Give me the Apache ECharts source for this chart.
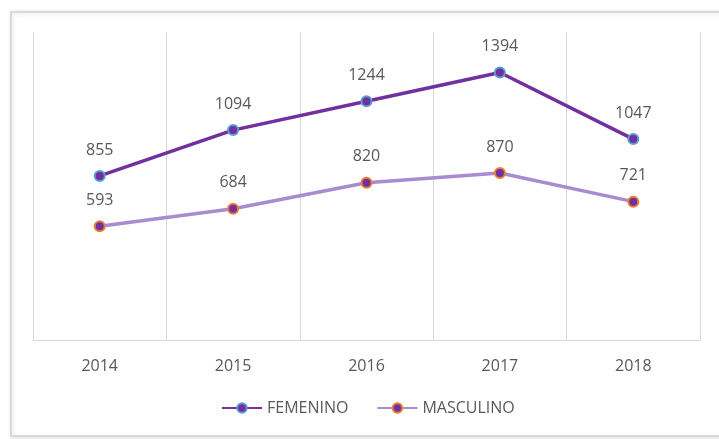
<!DOCTYPE html>
<html>
<head>
<meta charset="utf-8">
<script src="https://cdn.jsdelivr.net/npm/echarts@6/dist/echarts.min.js"></script>
<style>
html,body{margin:0;padding:0;background:#fff;}
#c{width:719px;height:439px;}
</style>
</head>
<body>
<div id="c"></div>
<script>
const categories = ['2014', '2015', '2016', '2017', '2018'];
const femenino = [855, 1094, 1244, 1394, 1047];
const masculino = [593, 684, 820, 870, 721];
const seriesNames = ['FEMENINO', 'MASCULINO'];

const chart = echarts.init(document.getElementById('c'));
const font = '"Open Sans", "Noto Sans", sans-serif';
const labelStyle = { show: true, position: 'top', distance: 12, color: '#595959', fontSize: 16, fontFamily: font };
chart.setOption({
  animation: false,
  backgroundColor: '#fff',
  graphic: [{
    type: 'rect', z: -10, silent: true,
    shape: { x: 11, y: 12, width: 730, height: 424 },
    style: { fill: '#fff', stroke: '#d9d9d9', lineWidth: 2, shadowBlur: 4, shadowColor: 'rgba(0,0,0,0.12)', shadowOffsetX: 1, shadowOffsetY: 1 }
  }],
  grid: { left: 33, right: 19, top: 33, bottom: 99, containLabel: false },
  legend: {
    bottom: 18, left: 216, itemWidth: 40, itemHeight: 12, itemGap: 28,
    textStyle: { color: '#595959', fontSize: 16, fontFamily: font },
    data: seriesNames
  },
  xAxis: {
    type: 'category', data: categories, boundaryGap: true,
    axisLine: { show: true, lineStyle: { color: '#d9d9d9', width: 1 } },
    axisTick: { show: false },
    axisLabel: { color: '#595959', fontSize: 16, fontFamily: font, margin: 18 },
    splitLine: { show: true, interval: 0, lineStyle: { color: '#d9d9d9', width: 1 } }
  },
  yAxis: {
    type: 'value', min: 0, max: 1600, interval: 200,
    axisLine: { show: false }, axisTick: { show: false }, axisLabel: { show: false },
    splitLine: { show: false }
  },
  series: [
    {
      name: seriesNames[0], type: 'line', data: femenino,
      symbol: 'circle', symbolSize: 10,
      lineStyle: { color: '#7030A0', width: 3.5 },
      itemStyle: { color: '#7030A0', borderColor: '#5B9BD5', borderWidth: 2 },
      label: labelStyle
    },
    {
      name: seriesNames[1], type: 'line', data: masculino,
      symbol: 'circle', symbolSize: 10,
      lineStyle: { color: '#A98BD2', width: 3.5 },
      itemStyle: { color: '#7030A0', borderColor: '#ED7D31', borderWidth: 2 },
      label: labelStyle
    }
  ]
});
</script>
</body>
</html>
